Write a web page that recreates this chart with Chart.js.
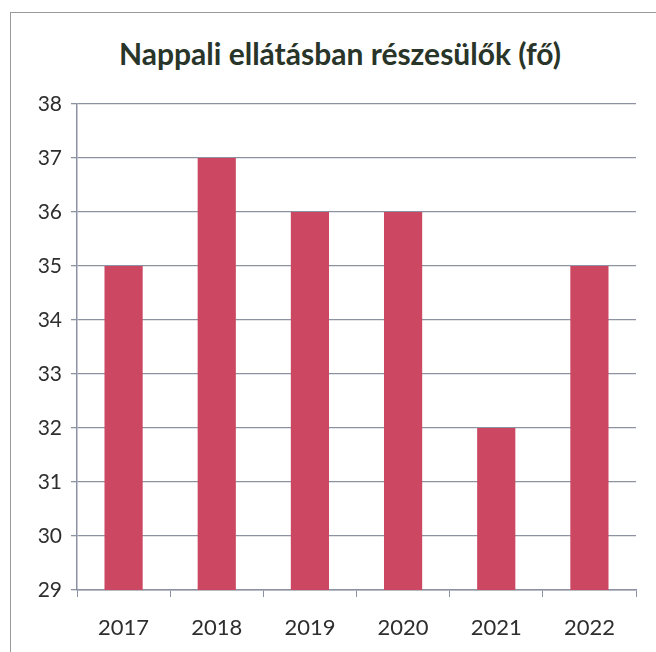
<!DOCTYPE html>
<html>
<head>
	<title>Nappali ellátásban részesülők</title>
	<script src="https://cdn.jsdelivr.net/npm/chart.js"></script>
	<style>
		body { margin: 0; background: #fff; }
		.wrap {
			position: absolute; left: 0; top: 0; width: 656px; height: 652px;
		}
		.frame {
			position: absolute; left: 10px; top: 12px; width: 660px; height: 700px;
			border-left: 1px solid #9a9a9a; border-top: 1px solid #9a9a9a;
		}
		.header {
			position: absolute; left: 40px; width: 600px; top: 33px;
			text-align: center; font-family: Lato, sans-serif; font-weight: bold;
			font-size: 30px; line-height: 40px; color: #283528;
		}
		canvas { position: absolute; left: 0; top: 0; }
	</style>
</head>
<body>
<div class="wrap">
	<div class="frame"></div>
	<div class="header">Nappali ellátásban részesülők (fő)</div>
	<canvas id="myChart" width="656" height="652"></canvas>
</div>
<script>
// data
var years = ['2017', '2018', '2019', '2020', '2021', '2022'];
var persons = [35, 37, 36, 36, 32, 35];
var yTicks = [29, 30, 31, 32, 33, 34, 35, 36, 37, 38];

var barColor = '#cc4862';
var gridColor = '#8c92a2';
var textColor = '#2e2e2e';

var chartConfig = {
	type: 'bar',
	data: {
		labels: years,
		datasets: [{
			label: 'Nappali ellátásban részesülők (fő)',
			data: persons,
			backgroundColor: barColor,
			borderWidth: 0,
			barPercentage: 0.41,
			categoryPercentage: 1
		}]
	},
	options: {
		responsive: false,
		animation: false,
		layout: { padding: { left: 10, right: 20, top: 104, bottom: 4 } },
		plugins: {
			legend: { display: false },
			tooltip: { enabled: false },
			title: { display: false }
		},
		scales: {
			x: {
				afterFit: function(scale) { scale.height = 58; },
				grid: {
					display: true,
					drawOnChartArea: false,
					color: gridColor,
					tickLength: 7,
					offset: true
				},
				border: { color: gridColor, width: 1.5 },
				ticks: {
					color: textColor,
					font: { family: 'Lato', size: 22 },
					padding: 18
				}
			},
			y: {
				min: 29,
				max: 38,
				afterFit: function(scale) { scale.width = 67; },
				afterBuildTicks: function(scale) {
					scale.ticks = yTicks.map(function(v) { return { value: v }; });
				},
				grid: {
					color: gridColor,
					lineWidth: 1.3,
					tickLength: 6
				},
				border: { color: gridColor, width: 1.5 },
				ticks: {
					color: textColor,
					font: { family: 'Lato', size: 21 },
					padding: 9
				}
			}
		}
	}
};

var ctx = document.getElementById('myChart');
var myChart = new Chart(ctx, chartConfig);
</script>
</body>
</html>
